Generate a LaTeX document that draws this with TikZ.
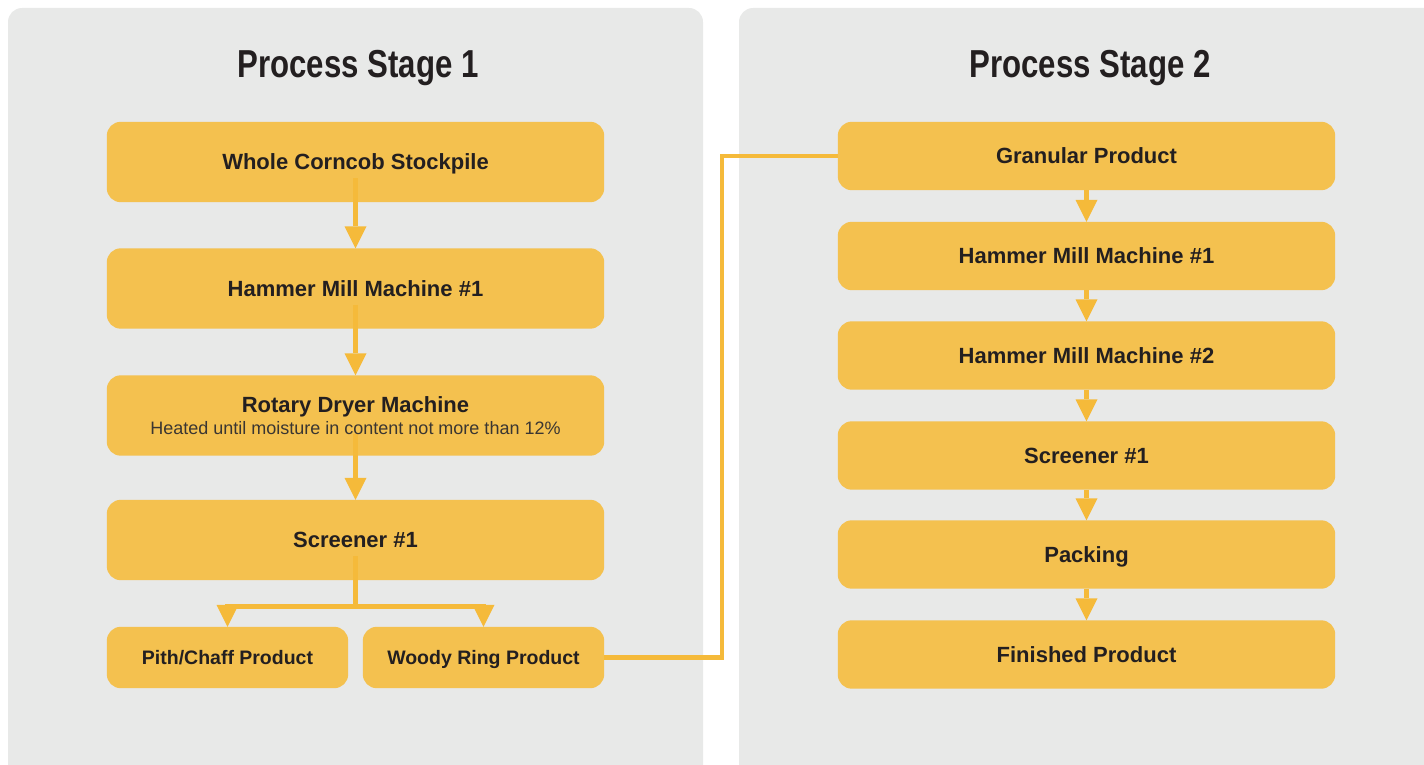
\documentclass[tikz,border=0pt]{standalone}
\usepackage{fontspec}
\setmainfont{Liberation Sans}
\newfontfamily\titlefont[FakeStretch=0.8]{Liberation Sans}
\usetikzlibrary{arrows.meta,calc}
\pgfdeclarelayer{panel}
\pgfdeclarelayer{boxes}
\pgfdeclarelayer{lines}
\pgfsetlayers{panel,boxes,lines,main}
\definecolor{panelgray}{HTML}{E8E9E8}
\definecolor{boxfill}{HTML}{F4C14F}
\definecolor{flow}{HTML}{F5BA3A}
\definecolor{ink}{HTML}{231F20}
\definecolor{subink}{HTML}{3A3632}
\begin{document}
\begin{tikzpicture}[x=1pt,y=-1pt,
  box/.style={minimum width=497pt,minimum height=80pt,inner sep=0pt,text=ink,
    font=\bfseries\fontsize{22}{22.3}\selectfont,align=center,
    text height=15.5pt,text depth=0pt,
    append after command={\pgfextra{\begin{pgfonlayer}{boxes}\fill[boxfill,rounded corners=14pt] (\tikzlastnode.north west) rectangle (\tikzlastnode.south east);\end{pgfonlayer}}}},
  rbox/.style={box,minimum height=68pt},
  sbox/.style={box,minimum width=241pt,minimum height=61pt,font=\bfseries\fontsize{19.5}{22}\selectfont,text height=14pt},
  title/.style={font=\titlefont\bfseries\fontsize{39}{44}\selectfont,text=ink,inner sep=0pt},
  flowline/.style={draw=flow,line width=5pt},
  conn/.style={draw=flow,line width=4.5pt,line join=miter},
  arr/.style={flowline,-{Triangle[width=22pt,length=22pt,line width=0pt]}}
]
\useasboundingbox (0,0) rectangle (1424,765);
\begin{pgfonlayer}{panel}
\begin{scope}
\clip (0,0) rectangle (1424,765);
\fill[panelgray,rounded corners=14pt] (8,8) rectangle (703,790);
\fill[panelgray,rounded corners=14pt] (739,8) rectangle (1460,790);
\end{scope}
\end{pgfonlayer}

\node[title,anchor=base] (t1) at (358,78) {Process Stage 1};
\node[title,anchor=base] (t2) at (1090,78) {Process Stage 2};

% stage 1
\node[box] (whole) at (355.5,162) {Whole Corncob Stockpile};
\node[box] (ham1) at (355.5,288.5) {Hammer Mill Machine \#1};
\node[box,text height=37.8pt] (dry) at (355.5,415.5) {Rotary Dryer Machine\\{\mdseries\color{subink}\fontsize{18}{22.3}\selectfont Heated until moisture in content not more than 12\%}};
\node[box] (scr) at (355.5,540) {Screener \#1};
\node[sbox] (pith) at (227.5,657.5) {Pith/Chaff Product};
\node[sbox] (woody) at (483.5,657.5) {Woody Ring Product};

% stage 2
\node[rbox] (gran) at (1086.5,156) {Granular Product};
\node[rbox] (rham1) at (1086.5,256) {Hammer Mill Machine \#1};
\node[rbox] (rham2) at (1086.5,355.5) {Hammer Mill Machine \#2};
\node[rbox] (rscr) at (1086.5,455.5) {Screener \#1};
\node[rbox] (pack) at (1086.5,554.5) {Packing};
\node[rbox] (fin) at (1086.5,654.5) {Finished Product};

\coordinate (bj) at (355.5,606.5);
\coordinate (cx) at (722,0);

\begin{pgfonlayer}{lines}
\draw[arr] ([yshift=24pt]whole.south) -- (ham1.north);
\draw[arr] ([yshift=24pt]ham1.south) -- (dry.north);
\draw[arr] ([yshift=22pt]dry.south) -- (scr.north);
\draw[flowline] ([yshift=24pt]scr.south) -- (bj);
\draw[flowline] (bj -| pith.north) -- (bj -| woody.north);
\draw[arr] ([yshift=2.5pt]bj -| pith.north) -- (pith.north);
\draw[arr] ([yshift=2.5pt]bj -| woody.north) -- (woody.north);
\draw[conn] (woody.east) -| (cx |- gran.west) -- (gran.west);
\draw[arr] (gran.south) -- (rham1.north);
\draw[arr] (rham1.south) -- (rham2.north);
\draw[arr] (rham2.south) -- (rscr.north);
\draw[arr] (rscr.south) -- (pack.north);
\draw[arr] (pack.south) -- (fin.north);
\end{pgfonlayer}
\end{tikzpicture}
\end{document}
